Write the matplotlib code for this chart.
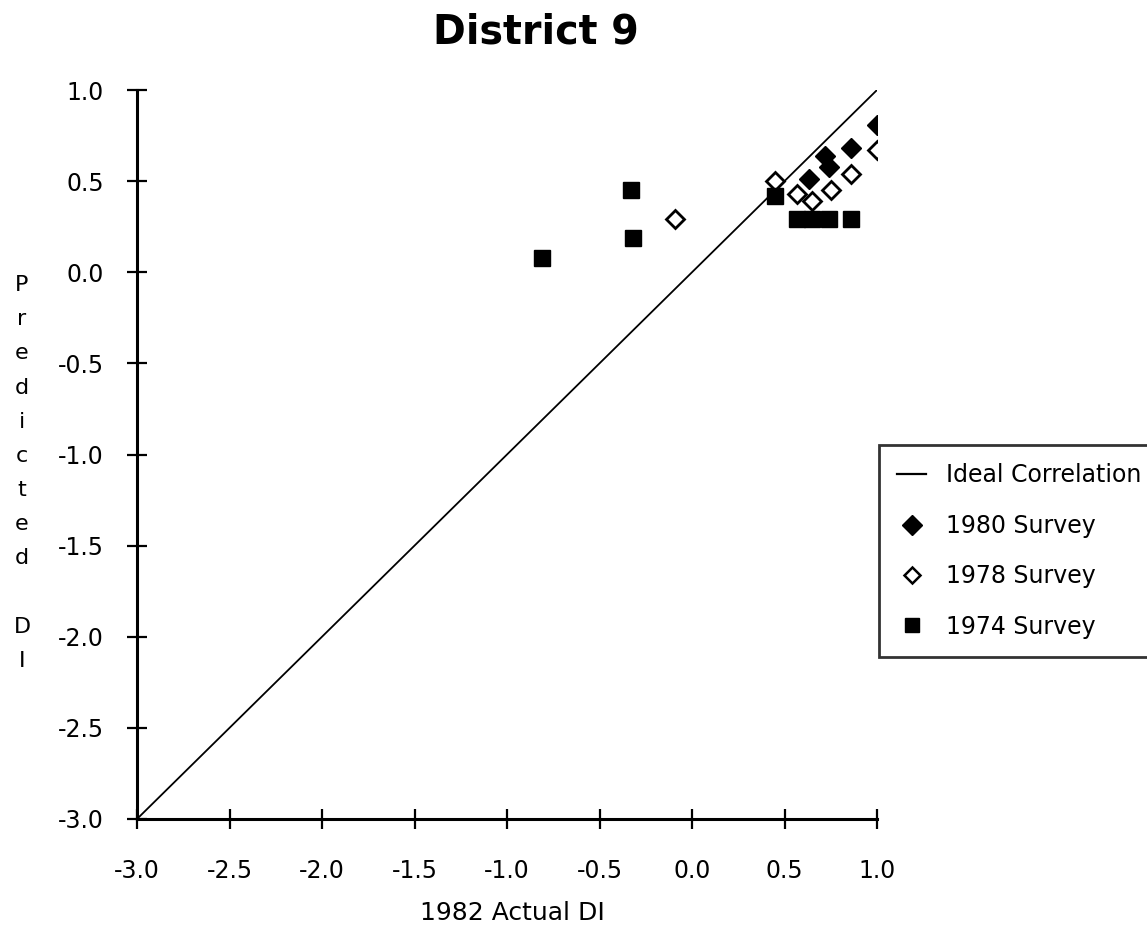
import matplotlib
matplotlib.use("Agg")
import matplotlib.pyplot as plt
from matplotlib.lines import Line2D

# Survey predictions vs. 1982 actual DI
x_1980 = [1.00, 0.86, 0.72, 0.74, 0.63]
y_1980 = [0.81, 0.68, 0.64, 0.58, 0.51]

x_1978 = [1.00, 0.86, 0.75, 0.57, 0.65, 0.45, -0.09]
y_1978 = [0.67, 0.54, 0.45, 0.43, 0.39, 0.50, 0.29]

x_1974 = [0.45, 0.57, 0.65, 0.74, 0.86, -0.33, -0.32, -0.81]
y_1974 = [0.42, 0.29, 0.29, 0.29, 0.29, 0.45, 0.19, 0.08]

ideal = [-3.0, 1.0]
ticks = [-3.0, -2.5, -2.0, -1.5, -1.0, -0.5, 0.0, 0.5, 1.0]
tick_labels = [f"{t:.1f}" for t in ticks]

W, H = 1147, 936
fig = plt.figure(figsize=(W / 100, H / 100), dpi=100)
ax = fig.add_axes([137 / W, 1 - 819 / H, 740 / W, 729 / H])

ax.plot(ideal, ideal, color="black", lw=1.3, label="Ideal Correlation")
ax.plot(x_1980, y_1980, ls="none", marker="D", ms=10, mfc="black",
        mec="black", label="1980 Survey")
ax.plot(x_1978, y_1978, ls="none", marker="D", ms=9, mfc="white",
        mec="black", mew=2, label="1978 Survey")
ax.plot(x_1974, y_1974, ls="none", marker="s", ms=11, mfc="black",
        mec="black", label="1974 Survey")

ax.set_xlim(-3.0, 1.0)
ax.set_ylim(-3.0, 1.0)
ax.set_xticks(ticks)
ax.set_xticklabels(tick_labels)
ax.set_yticks(ticks)
ax.set_yticklabels(tick_labels)
ax.tick_params(direction="inout", length=14, width=1.6, labelsize=17)
ax.tick_params(axis="x", pad=22)
ax.tick_params(axis="y", pad=17)

for side in ("top", "right"):
    ax.spines[side].set_visible(False)
for side in ("left", "bottom"):
    ax.spines[side].set_linewidth(2.2)

fig.text(536 / W, 1 - 43 / H, "District 9", ha="center", va="baseline",
         fontsize=28.5, fontweight="bold")
fig.text(512 / W, 1 - 913 / H, "1982 Actual DI", ha="center", va="center",
         fontsize=18)
fig.text(22 / W, 1 - 473 / H, "\n".join("Predicted") + "\n\nD\nI",
         ha="center", va="center", fontsize=16, linespacing=1.885)

handles = [
    Line2D([], [], color="black", lw=1.6),
    Line2D([], [], ls="none", marker="D", ms=10, mfc="black", mec="black"),
    Line2D([], [], ls="none", marker="D", ms=8, mfc="white", mec="black", mew=1.8),
    Line2D([], [], ls="none", marker="s", ms=10, mfc="black", mec="black"),
]
labels = ["Ideal Correlation", "1980 Survey", "1978 Survey", "1974 Survey"]
leg = fig.legend(handles, labels, loc="upper left", mode="expand",
                 bbox_to_anchor=(879 / W, 0, 320 / W, 1 - 445 / H),
                 fontsize=17, frameon=True, fancybox=False,
                 handlelength=1.2, handletextpad=0.85, labelspacing=1.12,
                 borderpad=0.78, borderaxespad=0)
leg.get_frame().set_edgecolor("black")
leg.get_frame().set_linewidth(2)

fig.savefig("out.png", dpi=100)
